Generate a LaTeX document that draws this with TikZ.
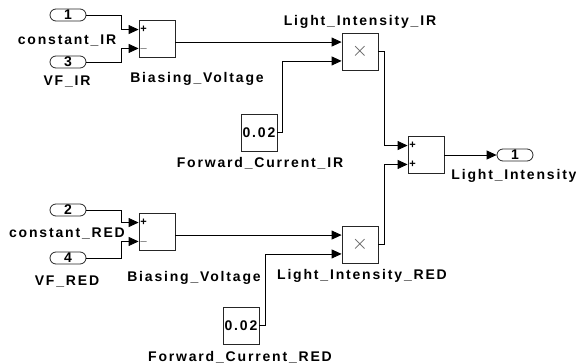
\documentclass[tikz,border=0pt]{standalone}
\usepackage{fontspec}
\setmainfont{Liberation Sans}
\newfontfamily\lblfont{Liberation Sans}[LetterSpace=13]
\usetikzlibrary{arrows.meta,shapes.misc,calc}
\tikzset{
  blk/.style={draw=black!85, line width=0.8pt, minimum width=36pt, minimum height=37pt, inner sep=0pt, fill=white},
  port/.style={draw=black!85, line width=0.8pt, rounded rectangle, minimum width=36pt, minimum height=12pt, inner sep=0pt, font=\lblfont\bfseries\fontsize{14}{14}\selectfont},
  lbl/.style={font=\lblfont\bfseries\fontsize{14}{14}\selectfont, inner sep=0pt, anchor=base},
  sign/.style={font=\bfseries\fontsize{11}{11}\selectfont, inner sep=0pt},
  times/.style={font=\fontsize{22}{22}\selectfont, text=black!65, inner sep=0pt},
  wire/.style={line width=0.8pt, -{Triangle[length=10pt,width=9pt]}},
}
\begin{document}
\begin{tikzpicture}[x=1pt,y=-1pt]
\useasboundingbox (0,0) rectangle (576,364);
% ---- inports
\node[port] (in1) at (68,15) {1};
\node[port] (in3) at (68,62) {3};
\node[port] (in2) at (68,210) {2};
\node[port] (in4) at (68,258) {4};
\node[lbl] (lin1) at (67,45) {constant\_IR};
\node[lbl] (lin3) at (67,85) {VF\_IR};
\node[lbl] (lin2) at (67,237) {constant\_RED};
\node[lbl] (lin4) at (67,285) {VF\_RED};
% ---- sums
\node[blk] (sum1) at (157,39) {};
\node[blk] (sum2) at (157,232) {};
\node[blk] (sum3) at (426,155) {};
\node[lbl] (lsum1) at (197,82) {Biasing\_Voltage};
\node[lbl] (lsum2) at (194,281) {Biasing\_Voltage};
% ---- products
\node[blk] (prod1) at (360,51.5) {};
\node[blk] (prod2) at (360,244.5) {};
\node[times] (x1) at (prod1) {$\times$};
\node[times] (x2) at (prod2) {$\times$};
\node[lbl] (lprod1) at (360,25) {Light\_Intensity\_IR};
\node[lbl] (lprod2) at (362,279) {Light\_Intensity\_RED};
% ---- constants
\node[blk, font=\lblfont\bfseries\fontsize{14}{14}\selectfont] (c1) at (259,132.5) {0.02};
\node[blk, font=\lblfont\bfseries\fontsize{14}{14}\selectfont] (c2) at (241,325.5) {0.02};
\node[lbl] (lc1) at (260,167) {Forward\_Current\_IR};
\node[lbl] (lc2) at (240,361) {Forward\_Current\_RED};
% ---- outport
\node[port] (out1) at (515,155) {1};
\node[lbl] (lout) at (514,179) {Light\_Intensity};
% ---- input coordinates
\coordinate (s1a) at ($(sum1.north west)!0.25!(sum1.south west)$);
\coordinate (s1b) at ($(sum1.north west)!0.75!(sum1.south west)$);
\coordinate (s2a) at ($(sum2.north west)!0.25!(sum2.south west)$);
\coordinate (s2b) at ($(sum2.north west)!0.75!(sum2.south west)$);
\coordinate (s3a) at ($(sum3.north west)!0.25!(sum3.south west)$);
\coordinate (s3b) at ($(sum3.north west)!0.75!(sum3.south west)$);
\coordinate (p1a) at ($(prod1.north west)!0.25!(prod1.south west)$);
\coordinate (p1b) at ($(prod1.north west)!0.75!(prod1.south west)$);
\coordinate (p2a) at ($(prod2.north west)!0.25!(prod2.south west)$);
\coordinate (p2b) at ($(prod2.north west)!0.75!(prod2.south west)$);
% ---- signs
\node[sign] (g1) at ([xshift=5pt]s1a) {+};
\node[sign] (g2) at ([xshift=5pt]s1b) {$-$};
\node[sign] (g3) at ([xshift=5pt]s2a) {+};
\node[sign] (g4) at ([xshift=5pt]s2b) {$-$};
\node[sign] (g5) at ([xshift=5pt]s3a) {+};
\node[sign] (g6) at ([xshift=5pt]s3b) {+};
% ---- wires
\draw[wire] (in1.east) -- ++(35,0) |- (s1a);
\draw[wire] (in3.east) -- ++(35,0) |- (s1b);
\draw[wire] (in2.east) -- ++(35,0) |- (s2a);
\draw[wire] (in4.east) -- ++(35,0) |- (s2b);
\draw[wire] (sum1.east |- p1a) -- (p1a);
\draw[wire] (sum2.east |- p2a) -- (p2a);
\draw[wire] (c1.east) -- ++(5,0) |- (p1b);
\draw[wire] (c2.east) -- ++(6,0) |- (p2b);
\draw[wire] (prod1.east) -- ++(6,0) |- (s3a);
\draw[wire] (prod2.east) -- ++(6,0) |- (s3b);
\draw[wire] (sum3.east) -- (out1.west);
\end{tikzpicture}
\end{document}
